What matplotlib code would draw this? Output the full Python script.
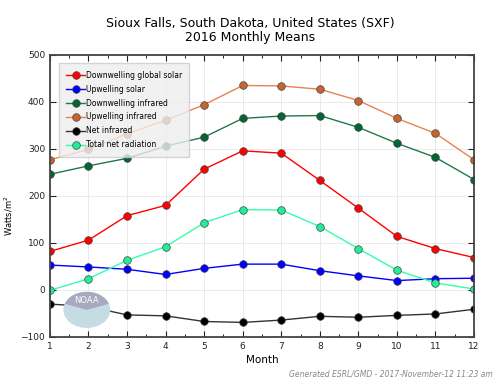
import matplotlib
matplotlib.use("Agg")
import matplotlib.pyplot as plt
from matplotlib.patches import Circle, Wedge

months = [1, 2, 3, 4, 5, 6, 7, 8, 9, 10, 11, 12]

# monthly means, W/m^2
dw_solar = [82, 106, 158, 180, 257, 296, 291, 233, 174, 114, 88, 69]
uw_solar = [53, 49, 44, 33, 46, 55, 55, 41, 30, 20, 24, 25]
dw_ir = [246, 264, 280, 306, 325, 365, 370, 371, 346, 312, 282, 235]
uw_ir = [277, 299, 332, 361, 394, 435, 434, 427, 403, 365, 333, 277]
net_ir = [-30, -35, -53, -55, -67, -69, -64, -56, -58, -54, -51, -41]
net_total = [-1, 24, 63, 92, 143, 171, 170, 135, 88, 42, 15, 2]

series = [
    ("Downwelling global solar", dw_solar, "#ff0000", "#ff0000"),
    ("Upwelling solar", uw_solar, "#0000ff", "#0000ff"),
    ("Downwelling infrared", dw_ir, "#1f7a4a", "#006633"),
    ("Upwelling infrared", uw_ir, "#e8834f", "#c8652f"),
    ("Net infrared", net_ir, "#333333", "#000000"),
    ("Total net radiation", net_total, "#33ffaa", "#22ee99"),
]

fig = plt.figure(figsize=(4.99, 3.84), dpi=100)
ax = fig.add_axes([0.100, 0.1224, 0.850, 0.7346])

# NOAA logo watermark (rough)
logo_c = (0.174, 0.193)
fig.patches.append(Circle(logo_c, 0.047, transform=fig.transFigure,
                          facecolor="#c5dce2", edgecolor="none", zorder=0.5))
fig.patches.append(Wedge(logo_c, 0.047, 20, 160, transform=fig.transFigure,
                         facecolor="#a8a8c0", edgecolor="none", zorder=0.6))
fig.text(logo_c[0], logo_c[1] + 0.025, "NOAA", color="white", fontsize=6,
         ha="center", va="center", zorder=0.7)
ax.set_facecolor("none")

for name, vals, lc, mc in series:
    ax.plot(months, vals, "-o", color=lc, lw=1, markersize=5.5,
            markerfacecolor=mc, markeredgecolor="#444444", markeredgewidth=0.5,
            label=name)

ax.set_xlim(1, 12)
ax.set_ylim(-100, 500)
ax.set_xticks(months)
ax.set_xticks([m + 0.5 for m in months[:-1]], minor=True)
ax.grid(True, color="#e6e6e6", lw=0.6)
ax.tick_params(direction="in", labelsize=6.5, length=4, top=True, right=True,
               colors="#222222")
ax.tick_params(which="minor", direction="in", length=2, top=True)
for s in ax.spines.values():
    s.set_color("#444444")
    s.set_linewidth(1.3)

ax.set_xlabel("Month", fontsize=7.5, labelpad=3)
ax.set_ylabel("Watts/m$^2$", fontsize=6)
ax.yaxis.set_label_coords(-0.083, 0.43)
ax.set_title("Sioux Falls, South Dakota, United States (SXF)\n2016 Monthly Means",
             fontsize=9, linespacing=1.15, pad=10, x=0.472)

leg = ax.legend(loc="upper left", fontsize=5.5, handlelength=2.4,
                handletextpad=0.1, labelspacing=0.65, borderpad=1.0,
                fancybox=False, bbox_to_anchor=(0.012, 0.985))
leg.get_frame().set_facecolor("#eeeeee")
leg.get_frame().set_edgecolor("#cccccc")

fig.text(0.988, 0.015, "Generated ESRL/GMD - 2017-November-12 11:23 am",
         ha="right", va="bottom", fontsize=5.5, style="italic", color="#888888")

fig.savefig("out.png", dpi=100)
